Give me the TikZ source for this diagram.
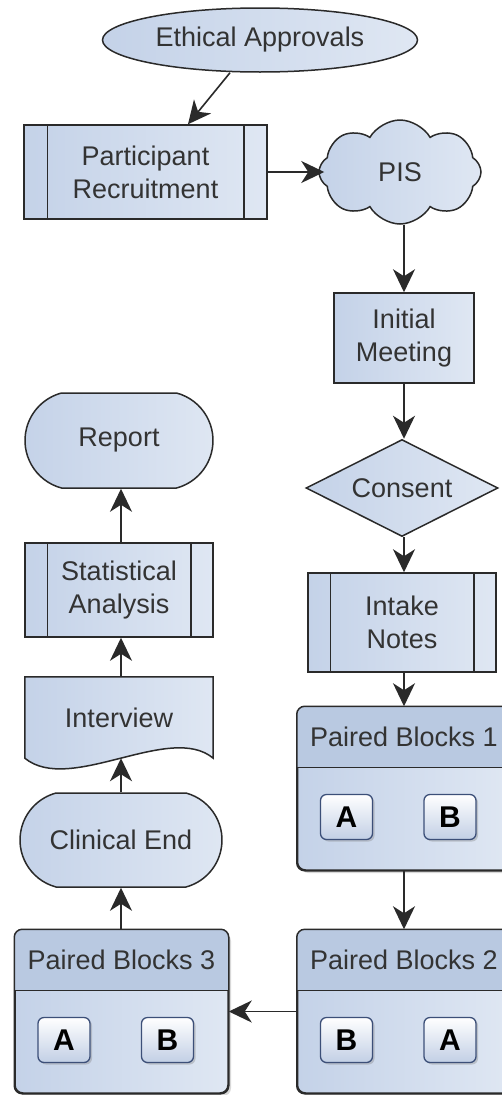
\documentclass[tikz,border=0pt]{standalone}
\usepackage{fontspec}
\setmainfont{Liberation Sans}
\usetikzlibrary{arrows.meta,shapes.geometric,shapes.symbols,shapes.misc,shadows,backgrounds}
\definecolor{edgec}{HTML}{2A2A2A}
\definecolor{fillL}{HTML}{C4D2E8}
\definecolor{fillR}{HTML}{DFE7F3}
\definecolor{hdrc}{HTML}{B9C9E1}
\definecolor{txtc}{HTML}{333333}
\definecolor{abord}{HTML}{3C4F78}
\definecolor{abot}{HTML}{C2CFE5}
\newcommand\pairblock[6]{%
  \node[pbox] (#1) at (#2,#3) {};
  \begin{scope}
    \clip[rounded corners=8pt] (#1.north west) rectangle (#1.south east);
    \fill[hdrc] (#1.north west) rectangle ([yshift=-61pt]#1.north east);
  \end{scope}
  \draw[bord] ([yshift=-61pt]#1.north west) -- ([yshift=-61pt]#1.north east);
  \draw[bord, rounded corners=8pt] (#1.north west) rectangle (#1.south east);
  \node[lbl] (#1t) at ([yshift=-31pt]#1.north) {Paired Blocks #4};
  \node[abox] (#1x) at ([xshift=-57.5pt,yshift=-28.5pt]#1.center) {#5};
  \node[abox] (#1y) at ([xshift=46pt,yshift=-28.5pt]#1.center) {#6};
}
\begin{document}
\begin{tikzpicture}[x=1pt,y=-1pt,
  bord/.style={draw=edgec, line width=1.5pt},
  base/.style={bord, left color=fillL, right color=fillR, text=txtc,
    font=\fontsize{27}{33}\selectfont, align=center, inner sep=0pt},
  lbl/.style={text=txtc, font=\fontsize{27}{33}\selectfont, inner sep=0pt, align=center},
  proc/.style={base, rectangle},
  term/.style={base, rounded rectangle, rounded rectangle arc length=150},
  pbox/.style={base, rectangle, rounded corners=8pt, minimum width=213pt, minimum height=163pt,
    drop shadow={opacity=0.3, shadow xshift=3pt, shadow yshift=-3pt}},
  abox/.style={draw=abord, line width=1.3pt, rounded corners=6pt, top color=white, bottom color=abot,
    minimum width=52pt, minimum height=45pt, inner sep=0pt,
    font=\fontsize{30}{30}\selectfont\bfseries, text=black,
    drop shadow={opacity=0.35, shadow xshift=2pt, shadow yshift=-2pt}},
  arr/.style={draw=edgec, line width=1.6pt, -{Stealth[length=23pt,width=22pt,inset=7pt]}}
]
\useasboundingbox (0,0) rectangle (502,1095);
\clip (0,0) rectangle (502,1095);
\begin{pgfonlayer}{background}
  \fill[white] (0,0) rectangle (502,1095);
\end{pgfonlayer}

% top
\node[base, ellipse, minimum width=315pt, minimum height=64pt] (ea) at (260,40) {Ethical Approvals};
\node[proc, minimum width=243pt, minimum height=94pt] (pr) at (145.5,172) {Participant\\Recruitment};
\draw[bord] ([xshift=24pt]pr.north west) -- ([xshift=24pt]pr.south west);
\draw[bord] ([xshift=-24pt]pr.north east) -- ([xshift=-24pt]pr.south east);
\node[base, cloud, cloud puffs=8, cloud puff arc=120, cloud ignores aspect,
  minimum width=162pt, minimum height=104pt] (pis) at (400,172) {PIS};

% right column
\node[proc, minimum width=140pt, minimum height=90pt] (im) at (404,338) {Initial\\Meeting};
\node[base, diamond, aspect=2, minimum width=192pt, minimum height=97pt] (con) at (402,488) {Consent};
\node[proc, minimum width=188pt, minimum height=99pt] (in) at (402,622.5) {Intake\\Notes};
\draw[bord] ([xshift=23pt]in.north west) -- ([xshift=23pt]in.south west);
\draw[bord] ([xshift=-23pt]in.north east) -- ([xshift=-23pt]in.south east);
\pairblock{pba}{404}{788.5}{1}{A}{B}
\pairblock{pbb}{404}{1011.5}{2}{B}{A}
\pairblock{pbc}{121.5}{1011.5}{3}{A}{B}

% left column
\node[term, minimum width=202pt, minimum height=94pt] (ce) at (121,840) {Clinical End};
\node[lbl, minimum width=188pt, minimum height=81pt] (iv) at (119,717.5) {Interview};
\begin{pgfonlayer}{background}
  \path[bord, left color=fillL, right color=fillR]
    (iv.north west) -- (iv.north east) -- (iv.south east)
    .. controls (170,722) and (70,795) .. (iv.south west) -- cycle;
\end{pgfonlayer}
\node[proc, minimum width=188pt, minimum height=94pt] (sa) at (119,590) {Statistical\\Analysis};
\draw[bord] ([xshift=23pt]sa.north west) -- ([xshift=23pt]sa.south west);
\draw[bord] ([xshift=-23pt]sa.north east) -- ([xshift=-23pt]sa.south east);
\node[term, minimum width=188pt, minimum height=95pt] (rep) at (119,440.5) {Report};

% connectors
\draw[arr] ([xshift=-30pt]ea.south) -- ([xshift=42.5pt]pr.north);
\draw[arr] (pr.east) -- ([xshift=6pt]pis.west);
\draw[arr] (pis.south -| im.north) -- (im.north);
\draw[arr] (im.south) -- (im.south |- con.north);
\draw[arr] (con.south -| im.south) -- (in.north -| im.south);
\draw[arr] (in.south -| pba.north) -- (pba.north);
\draw[arr] (pba.south) -- (pbb.north);
\draw[arr] (pbb.west) -- (pbc.east);
\draw[arr] (pbc.north -| ce.south) -- (ce.south);
\draw[arr] (ce.north) -- (ce.north |- iv.south);
\draw[arr] (iv.north -| ce.north) -- (sa.south -| ce.north);
\draw[arr] (sa.north -| ce.north) -- (rep.south -| ce.north);
\end{tikzpicture}
\end{document}
